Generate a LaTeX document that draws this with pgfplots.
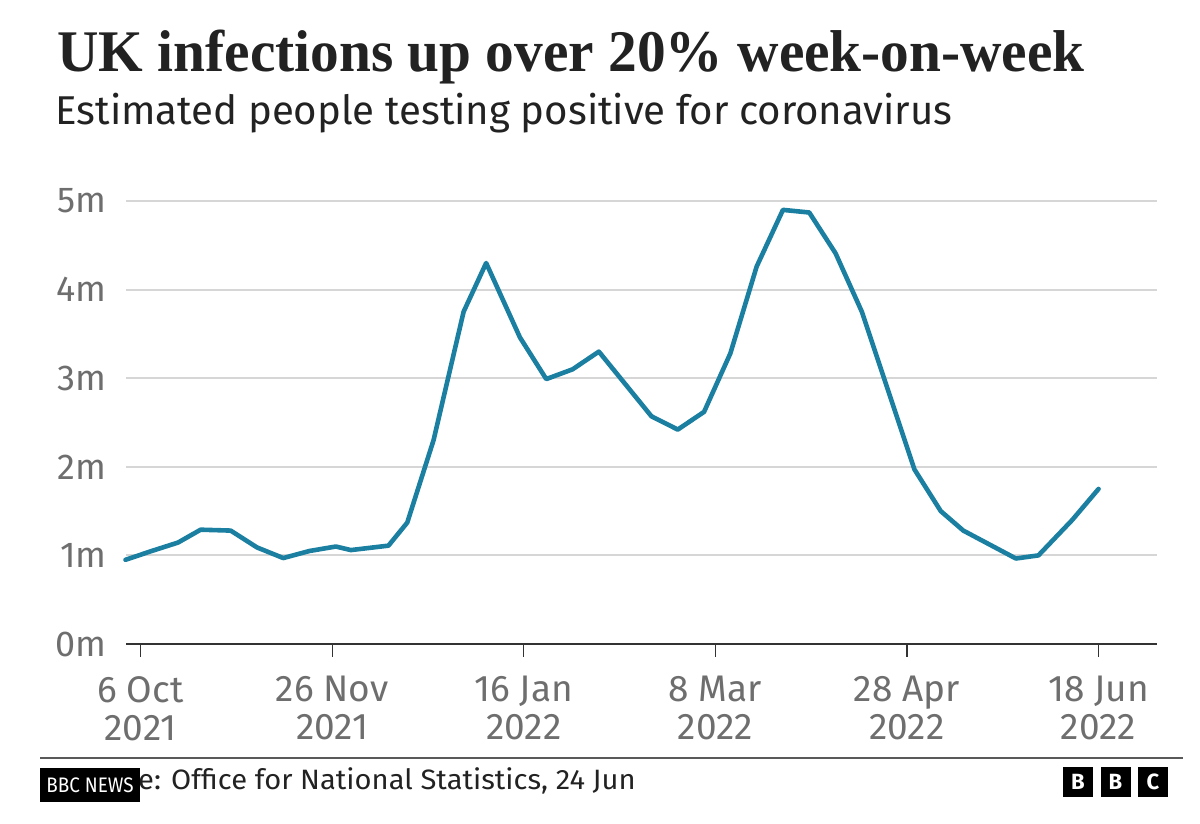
\documentclass[border=0pt]{standalone}
\usepackage{fontspec}
\usepackage{pgfplots}
\pgfplotsset{compat=1.18}
\setmainfont{Fira Sans}
\newfontfamily\titlefont{Liberation Serif}
\definecolor{bbcteal}{HTML}{1A7FA0}
\definecolor{ticktext}{HTML}{6E6E6E}
\definecolor{gridgray}{HTML}{D6D6D6}
\definecolor{ink}{HTML}{222222}

% Estimated people testing positive (millions), x = days after 6 Oct 2021
\pgfplotstableread{
day value
-4  0.95
3   1.05
10  1.145
16  1.29
24  1.28
31  1.09
38  0.97
45  1.05
52  1.10
56  1.06
66  1.11
71  1.37
78  2.30
86  3.75
92  4.30
101 3.46
108 2.99
115 3.10
122 3.30
136 2.57
143 2.42
150 2.62
157 3.28
164 4.26
171 4.90
178 4.87
185 4.41
192 3.75
206 1.97
213 1.50
219 1.28
233 0.965
239 1.00
248 1.40
255 1.75
}\infections

\begin{document}
\begin{tikzpicture}
\useasboundingbox (0,0) rectangle (600pt,412pt);

% headline and standfirst
\node[anchor=base west, inner sep=0pt, text=ink]
  at (28.5pt,376pt) {\scalebox{0.972}[1]{\titlefont\bfseries\fontsize{29.5pt}{32pt}\selectfont UK infections up over 20\% week-on-week}};
\node[anchor=base west, inner sep=0pt, text=ink]
  at (27.5pt,349.5pt) {\fontsize{20.1pt}{23pt}\selectfont Estimated people testing positive for coronavirus};

\begin{axis}[
  at={(63pt,90pt)}, anchor=south west,
  scale only axis,
  width=515.5pt, height=221.5pt,
  xmin=-3.86, xmax=270.56,
  ymin=0, ymax=5,
  axis x line*=bottom,
  axis y line*=left,
  x axis line style={draw=black!80, line width=1.4pt},
  y axis line style={draw=none},
  xtick={0,51,102,153,204,255},
  xticklabels={{6 Oct\\2021},{26 Nov\\2021},{16 Jan\\2022},{8 Mar\\2022},{28 Apr\\2022},{18 Jun\\2022}},
  ytick={0,1,2,3,4,5},
  yticklabels={0m,1m,2m,3m,4m,5m},
  tick align=outside,
  major tick length=6.5pt,
  xtick style={draw=black!80, line width=0.6pt},
  ytick style={draw=none},
  ymajorgrids,
  grid style={draw=gridgray, line width=1pt},
  xticklabel style={font=\fontsize{18.5pt}{19pt}\selectfont, text=ticktext, align=center, anchor=north, inner sep=0pt, yshift=-9.5pt},
  yticklabel style={font=\fontsize{18pt}{20pt}\selectfont, text=ticktext, anchor=east, inner sep=0pt, xshift=-3pt},
  clip=false,
]
\addplot[bbcteal, line width=2.3pt, line join=round, line cap=round] table[x=day, y=value] {\infections};
\end{axis}

% footer
\draw[draw=black!65, line width=0.6pt] (20pt,33pt) -- (591.5pt,33pt);
\node[anchor=base east, inner sep=0pt, text=ink]
  at (318pt,17pt) {\scalebox{1.04}[1]{\fontsize{14pt}{15pt}\selectfont Source: Office for National Statistics, 24 Jun}};
\fill[black] (20pt,11pt) rectangle (70pt,28pt);
\node[text=white, inner sep=0pt] at (45pt,19.5pt) {\scalebox{0.9}[1]{\fontsize{10.5pt}{12pt}\selectfont BBC NEWS}};
\foreach \xx/\ll in {531.5/B,550.25/B,569/C}{
  \fill[black] (\xx pt,13.5pt) rectangle ++(15pt,15pt);
  \node[text=white, inner sep=0pt] at ({\xx pt+7.5pt},21pt) {\bfseries\fontsize{11pt}{12pt}\selectfont \ll};
}
\end{tikzpicture}
\end{document}
